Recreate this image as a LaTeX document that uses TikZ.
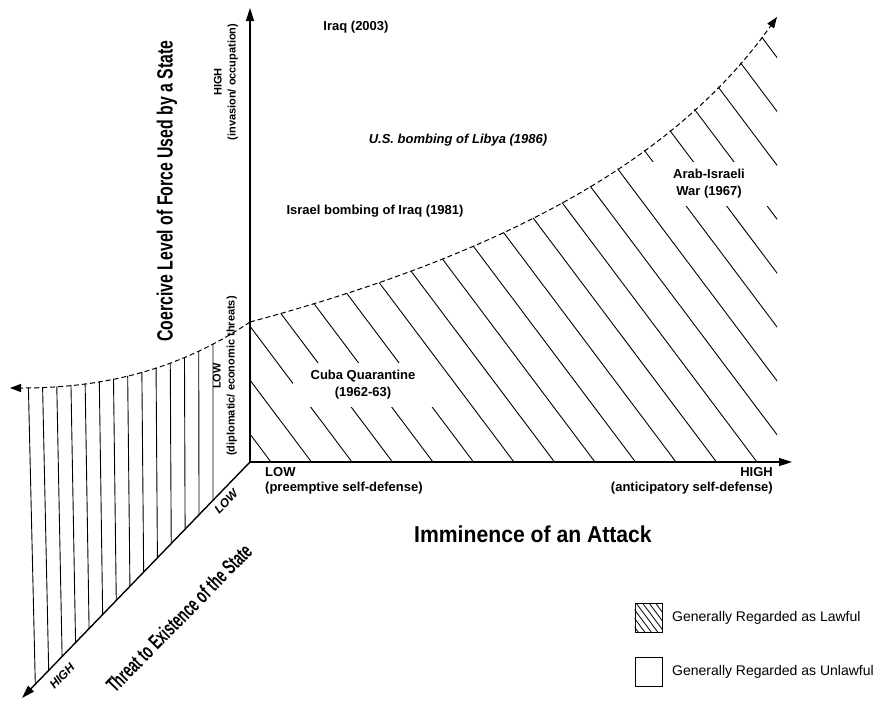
\documentclass[tikz,border=0pt]{standalone}
\usepackage{fontspec}
\usepackage{graphicx}
\setmainfont{Liberation Sans}
\usetikzlibrary{arrows.meta}
\begin{document}
\begin{tikzpicture}[x=1pt,y=-1pt,
  axisline/.style={line width=1.4pt,-{Triangle[length=13pt,width=8pt]}},
  hatchline/.style={line width=0.9pt},
  boundary/.style={line width=1pt,dash pattern=on 5pt off 3pt,-{Triangle[length=11pt,width=8pt]}},
  evlabel/.style={font=\bfseries\fontsize{13}{17}\selectfont,align=center,inner sep=0pt},
  gaplabel/.style={evlabel,fill=white,inner xsep=18pt,inner ysep=7pt},
  ticklabel/.style={font=\bfseries\fontsize{13}{15}\selectfont,inner sep=0pt},
  vlabel/.style={font=\bfseries\fontsize{11}{14}\selectfont,align=center,inner sep=0pt,rotate=90},
  dlabel/.style={font=\bfseries\itshape\fontsize{12}{14}\selectfont,inner sep=0pt,rotate=46},
  legbox/.style={draw,line width=0.8pt,minimum width=27pt,minimum height=29pt,inner sep=0pt},
  legtext/.style={font=\fontsize{14}{16}\selectfont,anchor=west,inner sep=0pt}
]
\useasboundingbox (0,0) rectangle (886,705);

% key points
\coordinate (O) at (250,462);
\coordinate (ytip) at (250,8);
\coordinate (xtip) at (792,462);
\coordinate (ztip) at (22,698);
\coordinate (Cr) at (250,322);
\coordinate (Rt) at (777,17);
\coordinate (Lt) at (10,388);

% right hatched region
\begin{scope}
  \clip (O) -- (Cr) .. controls (480,260) and (667,172) .. (Rt) -- (777,462) -- cycle;
  \foreach \k in {0,...,23} {
    \pgfmathsetmacro\xo{230.5+40.5*\k}
    \draw[hatchline] (\xo,462) -- ++(-520,-692);
  }
\end{scope}

% left hatched region
\begin{scope}
  \clip (Cr) .. controls (170,376) and (90,388) .. (Lt) -- (10,711) -- (O) -- cycle;
  \foreach \k in {0,...,13} {
    \pgfmathsetmacro\xt{28+14.23*\k}
    \pgfmathsetmacro\dd{0.04*(213-\xt)}
    \draw[hatchline] (\xt-0.25*\dd,290) -- (\xt+1.1*\dd,720);
  }
\end{scope}

% boundary curves
\draw[boundary] (Cr) .. controls (480,260) and (667,172) .. (Rt);
\draw[boundary] (Cr) .. controls (170,376) and (90,388) .. (Lt);

% axes
\draw[axisline] (O) -- (ytip);
\draw[axisline] (O) -- (xtip);
\draw[axisline] (O) -- (ztip);

% axis titles
\node[rotate=90,inner sep=0pt] (ytitle) at (167,191)
  {\scalebox{0.72}[1]{\bfseries\fontsize{22}{26}\selectfont Coercive Level of Force Used by a State}};
\node[inner sep=0pt] (xtitle) at (533,534)
  {\scalebox{0.92}[1]{\bfseries\fontsize{23}{26}\selectfont Imminence of an Attack}};
\node[rotate=45.5,inner sep=0pt] (ztitle) at (179,618)
  {\scalebox{0.63}[1]{\bfseries\fontsize{21}{24}\selectfont Threat to Existence of the State}};

% axis tick labels
\node[vlabel] (yhigh) at (226,82) {HIGH\\(invasion/ occupation)};
\node[vlabel] (ylow) at (225,376) {LOW\\(diplomatic/ economic threats)};
\node[ticklabel,align=left,anchor=north west] (xlow) at (265,467) {LOW\\(preemptive self-defense)};
\node[ticklabel,align=right,anchor=north east] (xhigh) at (773,467) {HIGH\\(anticipatory self-defense)};
\node[dlabel] (zlow) at (226,502) {LOW};
\node[dlabel] (zhigh) at (62,676) {HIGH};

% event labels
\node[evlabel] (iraq) at (356,27) {Iraq (2003)};
\node[evlabel,font=\bfseries\itshape\fontsize{13}{17}\selectfont] (libya) at (458,140) {U.S. bombing of Libya (1986)};
\node[evlabel] (israel) at (375,211) {Israel bombing of Iraq (1981)};
\node[gaplabel] (cuba) at (363,385) {Cuba Quarantine\\(1962-63)};
\node[gaplabel,inner xsep=24pt] (arab) at (709,184) {Arab-Israeli\\War (1967)};

% legend
\node[legbox] (lawbox) at (648.5,617.5) {};
\begin{scope}
  \clip (lawbox.south west) rectangle (lawbox.north east);
  \foreach \k in {0,...,9} {
    \draw[line width=0.8pt] (610+6.5*\k,603) -- ++(30,40);
  }
\end{scope}
\node[legbox] (unlawbox) at (648.5,672) {};
\node[legtext] (lawtext) at (672,618) {Generally Regarded as Lawful};
\node[legtext] (unlawtext) at (672,672) {Generally Regarded as Unlawful};
\end{tikzpicture}
\end{document}
